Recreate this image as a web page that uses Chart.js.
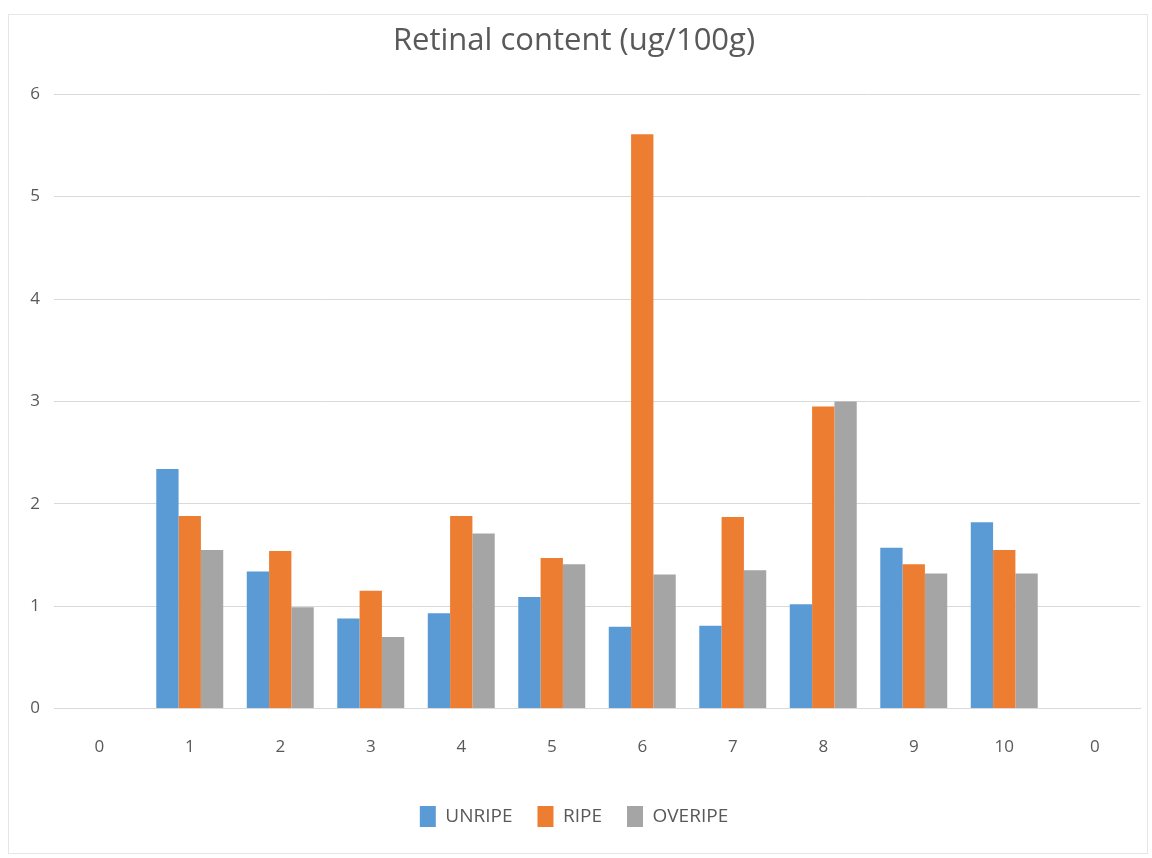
<!DOCTYPE html>
<html>
<head>
<meta charset="utf-8">
<script src="https://cdn.jsdelivr.net/npm/chart.js@4.4.1/dist/chart.umd.min.js"></script>
<style>
  html, body { margin: 0; padding: 0; background: #fff; }
  #wrap { position: relative; width: 1152px; height: 858px; }
  #frame { position: absolute; left: 8px; top: 14px; width: 1140px; height: 840px; border: 1px solid #e6e6e6; box-sizing: border-box; pointer-events: none; }
</style>
</head>
<body>
<div id="wrap">
  <canvas id="retinalChart" width="1152" height="858"></canvas>
  <div id="frame"></div>
</div>
<script>
// categories (first and last are empty placeholder columns in the original)
const categories = ['0', '1', '2', '3', '4', '5', '6', '7', '8', '9', '10', '0'];

// values
const unripe  = [null, 2.34, 1.34, 0.88, 0.93, 1.09, 0.80, 0.81, 1.02, 1.57, 1.82, null];
const ripe    = [null, 1.88, 1.54, 1.15, 1.88, 1.47, 5.61, 1.87, 2.95, 1.41, 1.55, null];
const overipe = [null, 1.55, 0.99, 0.70, 1.71, 1.41, 1.31, 1.35, 3.00, 1.32, 1.32, null];

const textColor = '#595959';
const fontFamily = "'Open Sans', sans-serif";

const ctx = document.getElementById('retinalChart').getContext('2d');
const retinalChart = new Chart(ctx, {
    type: 'bar',
    data: {
        labels: categories,
        datasets: [{
            label: 'UNRIPE',
            data: unripe,
            backgroundColor: '#5b9bd5'
        }, {
            label: 'RIPE',
            data: ripe,
            backgroundColor: '#ed7d31'
        }, {
            label: 'OVERIPE',
            data: overipe,
            backgroundColor: '#a5a5a5'
        }]
    },
    options: {
        responsive: false,
        animation: false,
        layout: {
            padding: { left: 8, right: 12, top: 18, bottom: 21 }
        },
        datasets: {
            bar: {
                categoryPercentage: 0.74,
                barPercentage: 1.0
            }
        },
        plugins: {
            title: {
                display: true,
                text: 'Retinal content (ug/100g)',
                color: textColor,
                font: { family: fontFamily, size: 31, weight: 'normal' },
                padding: { top: 5, bottom: 34 }
            },
            legend: {
                position: 'bottom',
                labels: {
                    color: textColor,
                    font: { family: fontFamily, size: 19 },
                    boxWidth: 16,
                    boxHeight: 21,
                    padding: 25
                }
            },
            tooltip: { enabled: false }
        },
        scales: {
            x: {
                grid: { display: false },
                border: { color: '#d9d9d9' },
                ticks: {
                    color: textColor,
                    font: { family: fontFamily, size: 17 },
                    padding: 20
                },
                afterFit(scale) { scale.height += 4; }
            },
            y: {
                min: 0,
                max: 6,
                ticks: {
                    stepSize: 1,
                    color: textColor,
                    font: { family: fontFamily, size: 17 },
                    padding: 14
                },
                grid: { color: '#d9d9d9', drawTicks: false },
                border: { display: false },
                afterFit(scale) { scale.width = 46; }
            }
        }
    }
});
</script>
</body>
</html>
